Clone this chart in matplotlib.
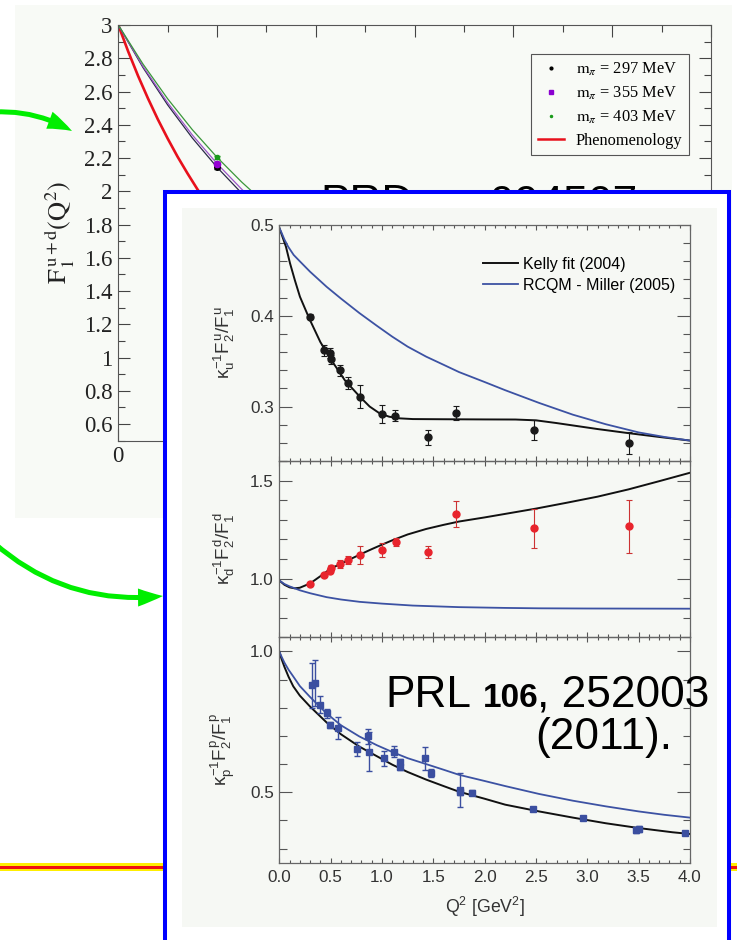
import matplotlib
matplotlib.use("Agg")
import matplotlib.pyplot as plt
from matplotlib.patches import Rectangle, FancyArrowPatch
from matplotlib.lines import Line2D
from matplotlib.ticker import MultipleLocator, FuncFormatter, FormatStrFormatter


# -------------------------
# Lattice F1^{u+d} (top chart)
# -------------------------

q_pheno = [0.0, 0.02, 0.04, 0.06, 0.08, 0.10, 0.12, 0.14, 0.16, 0.18, 0.20, 0.24, 0.28]
f_pheno = [3.0, 2.841, 2.694, 2.559, 2.433, 2.317, 2.208, 2.108, 2.013, 1.925, 1.843, 1.693, 1.561]

q_lat = [0.0, 0.05, 0.1, 0.15, 0.2, 0.25, 0.3]
f_297 = [3.0, 2.744, 2.519, 2.320, 2.144, 1.988, 1.847]
f_355 = [3.0, 2.751, 2.532, 2.338, 2.166, 2.012, 1.873]
f_403 = [3.0, 2.765, 2.556, 2.370, 2.204, 2.055, 1.920]

q_pt = 0.2
pt_vals = [2.144, 2.166, 2.204]
pt_errs = [0.010, 0.008, 0.008]
pt_labels = [r"$\mathrm{m}_\pi$ = 297 MeV", r"$\mathrm{m}_\pi$ = 355 MeV", r"$\mathrm{m}_\pi$ = 403 MeV"]

# -------------------------
# Flavor separated ratios (inset)
# -------------------------

q_u = [0.30, 0.44, 0.49, 0.50, 0.59, 0.67, 0.79, 1.00, 1.13, 1.45, 1.72, 2.48, 3.41]
r_u = [0.399, 0.362, 0.359, 0.352, 0.340, 0.326, 0.311, 0.292, 0.290, 0.266, 0.293, 0.274, 0.260]
e_u = [0.003, 0.006, 0.006, 0.005, 0.006, 0.007, 0.013, 0.010, 0.006, 0.008, 0.008, 0.011, 0.012]

kq_u = [0.0, 0.065, 0.104, 0.152, 0.201, 0.269, 0.30, 0.40, 0.508, 0.638, 0.783, 0.88, 0.977,
        1.07, 1.17, 1.3, 1.6, 2.0, 2.3, 2.5, 2.7, 2.9, 3.1, 3.4, 3.7, 4.0]
kr_u = [0.497, 0.476, 0.458, 0.439, 0.421, 0.403, 0.395, 0.371, 0.351, 0.329, 0.311, 0.300, 0.2925,
        0.2888, 0.2870, 0.2862, 0.2860, 0.2858, 0.2857, 0.2848, 0.2818, 0.2785, 0.2752, 0.2707, 0.2665, 0.2625]

mq_u = [0.0, 0.02, 0.05, 0.087, 0.14, 0.2, 0.3, 0.46, 0.6, 0.78, 0.95, 1.1, 1.25, 1.43, 1.6,
        1.75, 2.0, 2.2, 2.53, 2.86, 3.18, 3.5, 3.75, 4.0]
mr_u = [0.497, 0.492, 0.484, 0.476, 0.467, 0.460, 0.4485, 0.432, 0.419, 0.403, 0.389, 0.377, 0.366, 0.355, 0.346,
        0.338, 0.327, 0.318, 0.304, 0.291, 0.2805, 0.2715, 0.2665, 0.2625]

q_d = [0.30, 0.44, 0.49, 0.50, 0.59, 0.67, 0.79, 1.00, 1.14, 1.45, 1.72, 2.48, 3.41]
r_d = [0.973, 1.020, 1.040, 1.055, 1.075, 1.093, 1.122, 1.146, 1.188, 1.136, 1.330, 1.256, 1.266]
e_d = [0.010, 0.010, 0.012, 0.012, 0.020, 0.020, 0.046, 0.035, 0.020, 0.030, 0.068, 0.100, 0.137]

kq_d = [0.0, 0.05, 0.1, 0.15, 0.2, 0.3, 0.4, 0.5, 0.6, 0.7, 0.8, 0.9, 1.0, 1.1, 1.25, 1.43,
        1.6, 1.75, 2.0, 2.2, 2.5, 2.8, 3.1, 3.4, 3.7, 4.0]
kr_d = [0.99, 0.968, 0.955, 0.950, 0.953, 0.975, 1.012, 1.050, 1.076, 1.101, 1.126, 1.150, 1.173, 1.195, 1.225, 1.253,
        1.274, 1.291, 1.312, 1.330, 1.357, 1.387, 1.418, 1.455, 1.497, 1.540]

mq_d = [0.0, 0.05, 0.1, 0.136, 0.2, 0.3, 0.46, 0.6, 0.783, 1.0, 1.3, 1.75, 2.2, 2.53, 3.0, 4.0]
mr_d = [0.99, 0.972, 0.960, 0.953, 0.940, 0.925, 0.905, 0.893, 0.881, 0.872, 0.862, 0.854, 0.850, 0.848, 0.847, 0.846]

q_p = [0.32, 0.35, 0.40, 0.46, 0.49, 0.57, 0.76, 0.86, 0.87, 1.02, 1.12, 1.18, 1.18,
       1.42, 1.48, 1.76, 1.76, 1.88, 2.47, 2.96, 3.47, 3.50, 3.95]
r_p = [0.879, 0.888, 0.810, 0.780, 0.739, 0.727, 0.654, 0.698, 0.644, 0.621, 0.644, 0.607, 0.590,
       0.621, 0.568, 0.508, 0.500, 0.499, 0.440, 0.410, 0.366, 0.370, 0.357]
e_p = [0.081, 0.081, 0.03, 0.015, 0.01, 0.039, 0.025, 0.027, 0.07, 0.027, 0.02, 0.01, 0.01,
       0.041, 0.015, 0.062, 0.01, 0.01, 0.005, 0.005, 0.01, 0.01, 0.005]

kq_p = [0.0, 0.02, 0.05, 0.09, 0.136, 0.2, 0.3, 0.46, 0.6, 0.78, 0.95, 1.1, 1.25, 1.43, 1.6,
        1.75, 2.0, 2.2, 2.53, 2.86, 3.18, 3.5, 3.83, 4.0]
kr_p = [1.0, 0.975, 0.945, 0.910, 0.876, 0.843, 0.804, 0.748, 0.706, 0.662, 0.628, 0.598, 0.572, 0.545, 0.522,
        0.502, 0.477, 0.456, 0.432, 0.410, 0.390, 0.373, 0.358, 0.352]

mq_p = [0.0, 0.02, 0.05, 0.09, 0.136, 0.2, 0.3, 0.46, 0.6, 0.78, 0.95, 1.1, 1.25, 1.43, 1.6,
        1.75, 2.0, 2.2, 2.53, 2.86, 3.18, 3.5, 3.75, 4.0]
mr_p = [1.0, 0.983, 0.960, 0.935, 0.911, 0.877, 0.838, 0.780, 0.738, 0.698, 0.667, 0.643, 0.621, 0.600, 0.580,
        0.562, 0.540, 0.522, 0.494, 0.470, 0.450, 0.432, 0.420, 0.410]


# -------------------------
# Fonts and canvas
# -------------------------

plt.rcParams["font.family"] = "Liberation Sans"
plt.rcParams["mathtext.fontset"] = "custom"
plt.rcParams["mathtext.rm"] = "Liberation Sans"
plt.rcParams["mathtext.it"] = "Liberation Sans"
plt.rcParams["mathtext.bf"] = "Liberation Sans:bold"

W, H = 737, 940
fig = plt.figure(figsize=(W / 100, H / 100), dpi=100)


def fx(x):
    return x / W


def fy(y):
    return 1 - y / H


BLUE = "#3c52a3"
GREEN = "#00ee00"

# light panel behind the lattice plot
fig.add_artist(Rectangle((fx(15), fy(518)), fx(732 - 15), (518 - 5) / H,
                         transform=fig.transFigure, fc="#f8faf6", ec="none", zorder=0.1))


# -------------------------
# Top chart
# -------------------------

ax0 = fig.add_axes([fx(118.3), fy(440.7), fx(711 - 118.3), (440.7 - 25) / H], zorder=0.5)
ax0.set_facecolor("none")

ax0.plot(q_pheno, f_pheno, color="#e8101c", lw=1.9)
ax0.plot(q_lat, f_297, color="#2a2a48", lw=0.9)
ax0.plot(q_lat, f_355, color="#9a55c8", lw=0.9)
ax0.plot(q_lat, f_403, color="#3a963a", lw=0.9)

ax0.errorbar([q_pt], [pt_vals[0]], yerr=[pt_errs[0]], fmt="o", ms=4, color="black", capsize=2, elinewidth=0.8)
ax0.errorbar([q_pt], [pt_vals[1]], yerr=[pt_errs[1]], fmt="o", ms=4.5, color="#9400d3", capsize=2, elinewidth=0.8)
ax0.errorbar([q_pt], [pt_vals[2]], yerr=[pt_errs[2]], fmt="o", ms=3, color="#1a9a1a", capsize=2, elinewidth=0.8)

ax0.set_xlim(0, 1.2)
ax0.set_ylim(0.5, 3)
ax0.xaxis.set_major_locator(MultipleLocator(0.2))
ax0.xaxis.set_minor_locator(MultipleLocator(0.1))
ax0.yaxis.set_major_locator(MultipleLocator(0.2))
ax0.yaxis.set_minor_locator(MultipleLocator(0.1))
fmt_g = FuncFormatter(lambda v, p: f"{v:g}")
ax0.xaxis.set_major_formatter(fmt_g)
ax0.yaxis.set_major_formatter(fmt_g)
ax0.tick_params(which="both", direction="in", top=True, right=True, color="#444444", width=0.8,
                labelsize=16.5, labelfontfamily="Liberation Serif", labelcolor="#222222")
ax0.tick_params(which="major", length=8.5, pad=4)
ax0.tick_params(which="minor", length=5)
for sp in ax0.spines.values():
    sp.set_color("#555555")
    sp.set_linewidth(0.8)

ax0.set_ylabel(r"$\mathrm{F}_1^{\,\mathrm{u+d}}(\mathrm{Q}^2)$", fontsize=19,
               fontfamily="Liberation Serif", math_fontfamily="stix", color="#222222")
ax0.yaxis.set_label_coords(-0.070, 0.5)

handles = [
    Line2D([], [], ls="none", marker=".", ms=4, color="black"),
    Line2D([], [], ls="none", marker="s", ms=2.2, color="#8a00d0"),
    Line2D([], [], ls="none", marker=".", ms=3, color="#1a9a1a"),
    Line2D([], [], color="#e8101c", lw=1.8),
]
leg0 = ax0.legend(handles, pt_labels + ["Phenomenology"], loc="upper right",
                  bbox_to_anchor=(0.9624, 0.930), borderaxespad=0, fancybox=False,
                  edgecolor="#555555", facecolor="#f8faf6", framealpha=1,
                  prop={"family": "Liberation Serif", "size": 11.8},
                  handlelength=1.6, handletextpad=0.7, labelspacing=0.42, borderpad=0.4)
leg0.get_frame().set_linewidth(0.8)
for t in leg0.get_texts():
    t.set_math_fontfamily("stix")


# -------------------------
# Citation of the lattice paper (mostly covered)
# -------------------------

fig.text(fx(320), fy(216), "PRD", fontsize=31.9, va="baseline", zorder=1.5)
fig.text(fx(428), fy(216), "84", fontsize=24, fontweight="bold", va="baseline", zorder=1.5)
fig.text(fx(465), fy(216), ", 094507", fontsize=31.9, va="baseline", zorder=1.5)

# slide rule
fig.add_artist(Rectangle((0, fy(871)), 1, 8 / H, transform=fig.transFigure,
                         fc="#ffee00", ec="none", zorder=1.2))
fig.add_artist(Rectangle((0, fy(868.5)), 1, 3 / H, transform=fig.transFigure,
                         fc="#ee1111", ec="none", zorder=1.3))

# inset frame
fig.add_artist(Rectangle((fx(165), -0.05), fx(729 - 165), fy(192) + 0.05,
                         transform=fig.transFigure, fc="white", ec="#0000ff", lw=2.9, zorder=2))
fig.add_artist(Rectangle((fx(182), fy(927)), fx(717 - 182), (927 - 208) / H,
                         transform=fig.transFigure, fc="#f6f8f4", ec="none", zorder=2.1))


# -------------------------
# Inset panels
# -------------------------

left = fx(279.3)
width = fx(690 - 279.3)
ax1 = fig.add_axes([left, fy(461), width, (461 - 225) / H], zorder=3)
ax2 = fig.add_axes([left, fy(637.3), width, (637.3 - 461) / H], zorder=3)
ax3 = fig.add_axes([left, fy(862.7), width, (862.7 - 637.3) / H], zorder=3)

ax1.plot(kq_u, kr_u, color="#111111", lw=1.4, label="Kelly fit (2004)")
ax1.plot(mq_u, mr_u, color=BLUE, lw=1.3, label="RCQM - Miller (2005)")
ax1.errorbar(q_u, r_u, yerr=e_u, fmt="o", ms=5, color="#1a1a1a", capsize=2, elinewidth=0.8, capthick=0.8)

ax2.plot(kq_d, kr_d, color="#111111", lw=1.4)
ax2.plot(mq_d, mr_d, color=BLUE, lw=1.3)
ax2.errorbar(q_d, r_d, yerr=e_d, fmt="o", ms=5, color="#e8242c", ecolor="#cc3333",
             capsize=2, elinewidth=0.8, capthick=0.8)

ax3.plot(kq_p, kr_p, color="#111111", lw=1.4)
ax3.plot(mq_p, mr_p, color=BLUE, lw=1.3)
ax3.errorbar(q_p, r_p, yerr=e_p, fmt="s", ms=4.4, color="#3b4fa0", capsize=2, elinewidth=1.0, capthick=1.0)

ax1.set_ylim(0.24, 0.50)
ax2.set_ylim(0.7, 1.6)
ax3.set_ylim(0.25, 1.05)
ax1.yaxis.set_major_locator(MultipleLocator(0.1))
ax1.yaxis.set_minor_locator(MultipleLocator(0.02))
for a in (ax2, ax3):
    a.yaxis.set_major_locator(MultipleLocator(0.5))
    a.yaxis.set_minor_locator(MultipleLocator(0.1))

ylabels = [r"$\kappa_u^{-1}F_2^u/F_1^u$", r"$\kappa_d^{-1}F_2^d/F_1^d$", r"$\kappa_p^{-1}F_2^p/F_1^p$"]
for a, lab in zip((ax1, ax2, ax3), ylabels):
    a.set_facecolor("none")
    a.set_xlim(0, 4)
    a.xaxis.set_major_locator(MultipleLocator(0.5))
    a.xaxis.set_minor_locator(MultipleLocator(0.1))
    a.xaxis.set_major_formatter(FormatStrFormatter("%.1f"))
    a.yaxis.set_major_formatter(FormatStrFormatter("%.1f"))
    a.tick_params(which="both", direction="in", top=True, right=True, color="#555555",
                  width=0.8, labelsize=12.3, labelcolor="#333333")
    a.tick_params(axis="x", which="major", length=3.8, pad=5)
    a.tick_params(axis="x", which="minor", length=2.2)
    a.tick_params(axis="y", which="major", length=9.4, pad=4)
    a.tick_params(axis="y", which="minor", length=5.4)
    for sp in a.spines.values():
        sp.set_color("#666666")
        sp.set_linewidth(0.9)
    a.set_ylabel(lab, fontsize=13.5, color="#333333")
    a.yaxis.set_label_coords(-0.102, 0.5)

ax1.tick_params(labelbottom=False)
ax2.tick_params(labelbottom=False)
ax3.set_xlabel(r"Q$^2$ [GeV$^2$]", fontsize=12.8, color="#333333")
ax3.xaxis.set_label_coords(0.5, -0.145)

ax1.legend(loc="upper left", bbox_to_anchor=(0.48, 0.8915), borderaxespad=0, frameon=False,
           fontsize=11.5, handlelength=2.2, handletextpad=0.3, labelspacing=0.38)


# -------------------------
# Reference of the inset
# -------------------------

fig.text(fx(385), fy(706.7), "PRL", fontsize=31.9, va="baseline", zorder=4)
fig.text(fx(483), fy(706.7), "106", fontsize=24, fontweight="bold", va="baseline", zorder=4)
fig.text(fx(537), fy(706.7), ", 252003", fontsize=31.9, va="baseline", zorder=4)
fig.text(fx(535), fy(749.3), "(2011).", fontsize=31.9, va="baseline", zorder=4)


# -------------------------
# Arrows
# -------------------------

fig.add_artist(FancyArrowPatch((fx(-6), fy(112)), (fx(72), fy(131)), transform=fig.transFigure,
                               arrowstyle="simple,head_length=18,head_width=13,tail_width=3.6",
                               connectionstyle="arc3,rad=-0.15", color=GREEN, lw=0,
                               shrinkA=0, shrinkB=0, zorder=5))
fig.add_artist(FancyArrowPatch((fx(-6), fy(543)), (fx(163), fy(596)), transform=fig.transFigure,
                               arrowstyle="simple,head_length=18,head_width=13,tail_width=3.6",
                               connectionstyle="arc3,rad=0.22", color=GREEN, lw=0,
                               shrinkA=0, shrinkB=0, zorder=5))

fig.savefig("out.png", dpi=100)
